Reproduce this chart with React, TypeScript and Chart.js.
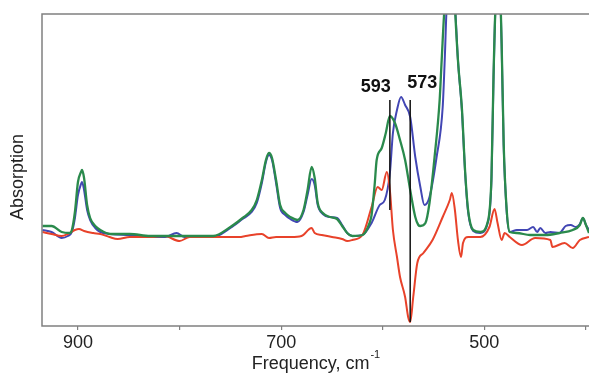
import { useEffect, useRef } from 'react';
import { Chart, registerables } from 'chart.js';

Chart.register(...registerables);

// Frequency (cm^-1) and absorption (arbitrary units)
const GREEN_X = [935, 926, 916, 908, 906, 903, 900, 897, 896, 894, 891, 888, 883, 878, 868, 849, 829, 800, 780, 767, 750, 738, 729, 724, 719, 715, 712, 709, 705, 701, 696, 691, 684, 678, 674, 670, 667, 664, 659, 652, 645, 640, 635, 630, 620, 613, 611, 608, 606, 601, 597, 593, 588, 583, 578, 573, 568, 565, 563, 558, 554, 549, 544, 542, 539, 535, 530, 529, 526, 522, 519, 516, 511, 504, 497, 493, 491, 489, 487, 485, 483, 481, 478, 475, 468, 455, 440, 426, 413, 406, 403, 400, 397];
const GREEN_Y = [100, 100, 94, 93, 96, 114, 144, 154, 156, 148, 121, 108, 100, 96, 92, 92, 90, 90, 90, 90, 99, 108, 116, 126, 146, 166, 173, 168, 146, 121, 113, 109, 106, 116, 136, 159, 148, 123, 113, 109, 107, 100, 93, 90, 91, 103, 111, 141, 166, 178, 193, 210, 203, 186, 166, 136, 109, 101, 100, 103, 123, 169, 226, 266, 321, 346, 346, 321, 266, 216, 156, 116, 96, 94, 103, 149, 249, 321, 341, 341, 283, 183, 116, 94, 93, 91, 91, 93, 96, 101, 108, 101, 93];

const BLUE_X = [935, 926, 916, 910, 906, 903, 900, 897, 896, 894, 891, 888, 883, 878, 868, 849, 829, 814, 803, 795, 780, 767, 750, 738, 729, 724, 719, 715, 712, 709, 705, 701, 696, 691, 684, 678, 674, 670, 667, 664, 659, 652, 645, 640, 635, 630, 620, 611, 603, 598, 593, 590, 586, 582, 578, 573, 568, 563, 559, 554, 547, 541, 539, 537, 533, 529, 526, 522, 519, 516, 511, 504, 497, 493, 491, 489, 487, 485, 483, 481, 478, 475, 468, 458, 452, 448, 445, 440, 435, 426, 420, 415, 410, 406, 403, 400, 397];
const BLUE_Y = [96, 94, 88, 90, 94, 108, 131, 142, 144, 136, 116, 106, 98, 94, 92, 91, 89, 89, 93, 89, 90, 89, 98, 107, 114, 123, 143, 164, 171, 166, 143, 118, 111, 107, 104, 114, 131, 147, 141, 121, 112, 109, 108, 101, 93, 90, 91, 103, 121, 126, 153, 193, 216, 229, 221, 209, 169, 139, 121, 129, 169, 219, 266, 321, 346, 321, 266, 214, 154, 114, 95, 93, 102, 146, 246, 321, 341, 341, 281, 181, 114, 94, 96, 96, 99, 94, 98, 93, 94, 93, 100, 101, 99, 102, 108, 101, 96];

const RED_X = [935, 926, 916, 910, 903, 899, 894, 885, 878, 869, 861, 849, 829, 815, 800, 790, 780, 760, 741, 735, 719, 712, 705, 690, 680, 670, 667, 660, 650, 640, 635, 630, 620, 611, 605, 601, 596, 593, 590, 586, 583, 578, 575, 573, 570, 566, 560, 551, 541, 534, 532, 529, 526, 523, 521, 516, 504, 495, 490, 487, 483, 480, 475, 463, 450, 435, 433, 421, 413, 406, 397];
const RED_Y = [94, 92, 90, 92, 96, 97, 95, 93, 92, 89, 87, 89, 89, 90, 85, 89, 89, 89, 89, 90, 92, 88, 89, 89, 90, 98, 93, 91, 89, 87, 85, 86, 91, 119, 139, 136, 154, 136, 96, 69, 49, 29, 9, 4, 29, 63, 73, 86, 109, 126, 133, 116, 86, 69, 83, 89, 89, 99, 117, 103, 86, 93, 89, 81, 88, 86, 79, 83, 78, 86, 89];

const TICK_VALUES = [900, 800, 700, 600, 500, 400];
const TICK_LABELS = ['900', '', '700', '', '500', ''];

const MARKER_FREQ = [593, 573];
const MARKER_TOP = [226, 226];
const MARKER_BOTTOM = [116, 4];
const MARKER_LABELS = ['593', '573'];

const X_TITLE = 'Frequency, cm';
const X_TITLE_SUP = '-1';
const Y_TITLE = 'Absorption';

const FONT = '"Liberation Sans", Arial, Helvetica, sans-serif';

const toPoints = (xs: number[], ys: number[]) => xs.map((x, i) => ({ x, y: ys[i] }));

export default function App() {
  const ref = useRef<HTMLCanvasElement | null>(null);

  useEffect(() => {
    document.body.style.margin = '0';
    const canvas = ref.current;
    if (!canvas) return;

    const overlay = {
      id: 'overlay',
      afterDatasetsDraw(chart: any) {
        const { ctx, chartArea } = chart;
        const xs = chart.scales.x;
        const ys = chart.scales.y;
        ctx.save();
        // frame (top, left, bottom)
        ctx.strokeStyle = '#808080';
        ctx.lineWidth = 1.5;
        ctx.beginPath();
        ctx.moveTo(chart.width + 2, chartArea.top);
        ctx.lineTo(chartArea.left, chartArea.top);
        ctx.lineTo(chartArea.left, chartArea.bottom);
        ctx.lineTo(chart.width + 2, chartArea.bottom);
        ctx.stroke();

        // marker labels
        ctx.fillStyle = '#111';
        ctx.font = `bold 18px ${FONT}`;
        ctx.textBaseline = 'alphabetic';
        const px0 = xs.getPixelForValue(MARKER_FREQ[0]);
        ctx.textAlign = 'right';
        ctx.fillText(MARKER_LABELS[0], px0 + 1, ys.getPixelForValue(MARKER_TOP[0]) - 8);
        const px1 = xs.getPixelForValue(MARKER_FREQ[1]);
        ctx.textAlign = 'left';
        ctx.fillText(MARKER_LABELS[1], px1 - 3, ys.getPixelForValue(MARKER_TOP[1]) - 12);

        // x title
        ctx.fillStyle = '#222';
        ctx.font = `18px ${FONT}`;
        const w1 = ctx.measureText(X_TITLE).width;
        ctx.font = `11px ${FONT}`;
        const w2 = ctx.measureText(X_TITLE_SUP).width;
        const cx = (chartArea.left + chartArea.right) / 2;
        const start = cx - (w1 + w2) / 2;
        ctx.textAlign = 'left';
        ctx.font = `18px ${FONT}`;
        ctx.fillText(X_TITLE, start, 369);
        ctx.font = `11px ${FONT}`;
        ctx.fillText(X_TITLE_SUP, start + w1 + 1, 358);

        // y title
        ctx.font = `18px ${FONT}`;
        ctx.translate(23, (chartArea.top + chartArea.bottom) / 2 + 7);
        ctx.rotate(-Math.PI / 2);
        ctx.textAlign = 'center';
        ctx.fillText(Y_TITLE, 0, 0);
        ctx.restore();
      },
    };

    const lineDs = (label: string, data: any[], color: string, width: number) => ({
      label,
      data,
      borderColor: color,
      backgroundColor: color,
      borderWidth: width,
      pointRadius: 0,
      cubicInterpolationMode: 'monotone' as const,
      fill: false,
    });

    const chart = new Chart(canvas, {
      type: 'line',
      data: {
        datasets: [
          lineDs('593 marker', [{ x: MARKER_FREQ[0], y: MARKER_TOP[0] }, { x: MARKER_FREQ[0], y: MARKER_BOTTOM[0] }], '#111', 1.5),
          lineDs('573 marker', [{ x: MARKER_FREQ[1], y: MARKER_TOP[1] }, { x: MARKER_FREQ[1], y: MARKER_BOTTOM[1] }], '#111', 1.5),
          lineDs('green', toPoints(GREEN_X, GREEN_Y), '#2a8a4c', 2.3),
          lineDs('red', toPoints(RED_X, RED_Y), '#e8422a', 2),
          lineDs('blue', toPoints(BLUE_X, BLUE_Y), '#4246b4', 2),
        ],
      },
      options: {
        responsive: false,
        animation: false,
        devicePixelRatio: 1,
        layout: { padding: { left: 42, top: 14, right: 0, bottom: 0 } },
        plugins: { legend: { display: false }, tooltip: { enabled: false } },
        scales: {
          x: {
            type: 'linear',
            reverse: true,
            min: 397,
            max: 935.4,
            afterFit: (s: any) => { s.height = 49; },
            afterBuildTicks: (s: any) => { s.ticks = TICK_VALUES.map((v) => ({ value: v })); },
            grid: { display: true, drawOnChartArea: false, drawTicks: true, tickLength: 4, color: '#808080', lineWidth: 1.2 },
            border: { display: false },
            ticks: {
              autoSkip: false,
              maxRotation: 0,
              padding: 2,
              color: '#222',
              font: { family: FONT, size: 18 },
              callback: (_v: any, i: number) => TICK_LABELS[i],
            },
          },
          y: { display: false, min: 0, max: 312 },
        },
      },
      plugins: [overlay],
    });
    return () => chart.destroy();
  }, []);

  return (
    <div style={{ width: 589, height: 375, background: '#fff' }}>
      <canvas ref={ref} width={589} height={375} style={{ width: 589, height: 375, display: 'block' }} />
    </div>
  );
}
